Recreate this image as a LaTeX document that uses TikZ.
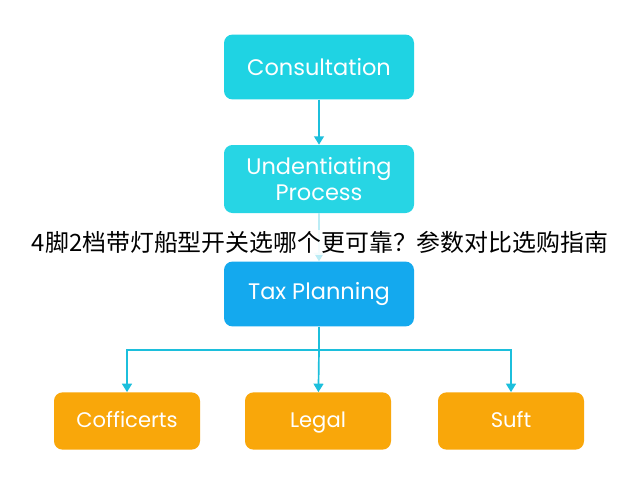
\documentclass[tikz,border=0pt]{standalone}
\usepackage{fontspec}
\setmainfont{Poppins}
\newfontfamily\cjk{Noto Sans CJK SC}
\usetikzlibrary{arrows.meta,positioning}
\definecolor{flcyan}{HTML}{1FD3E3}
\definecolor{flcyanlt}{HTML}{27D5E4}
\definecolor{flblue}{HTML}{14A9EE}
\definecolor{florange}{HTML}{F9A70A}
\definecolor{flline}{HTML}{1CBFDC}
\tikzset{
  stage/.style={rounded corners=6pt,minimum width=4.75cm,minimum height=1.62cm,
    text=white,font=\fontsize{16}{19}\selectfont,align=center,inner sep=2pt},
  leaf/.style={rounded corners=6pt,minimum width=3.65cm,minimum height=1.43cm,
    fill=florange,text=white,font=\fontsize{15}{18}\selectfont,
    text height=2.2ex,text depth=0.5ex},
  link/.style={flline,line width=1.2pt,-{Triangle[length=6pt,width=7pt]}}
}
\begin{document}
\begin{tikzpicture}
  \useasboundingbox[fill=white] (0,0) rectangle (16,12);

  % ---- Main steps --------------------------------
  \node[stage,fill=flcyan] (consult) at (7.975,10.325) {Consultation};
  \node[stage,fill=flcyanlt,minimum height=1.7cm] (undent) at (7.975,7.525)
    {Undentiating\\Process};
  \node[stage,fill=flblue] (tax) at (7.975,4.65) {Tax Planning};

  % ---- Branches ----------------------------------
  \node[leaf] (coff) at (3.175,1.475) {Cofficerts};
  \node[leaf] (legal) at (7.95,1.475) {Legal};
  \node[leaf] (suft) at (12.775,1.475) {Suft};

  % Connectors
  \draw[link] (consult) -- (undent);
  \draw[link,flline!30] (undent) -- (tax);
  \coordinate (split) at (7.975,3.25);
  \draw[flline,line width=1.2pt] (tax) -- (split);
  \draw[link] (split) -| (coff);
  \draw[link] (split) -- (legal);
  \draw[link] (split) -| (suft);

  % Caption across the middle
  \node[font=\cjk\fontsize{17}{19}\selectfont,fill=white,fill opacity=0.85,
    text opacity=1,inner sep=1pt] (title) at (8,5.93)
    {4脚2档带灯船型开关选哪个更可靠？参数对比选购指南};
\end{tikzpicture}
\end{document}
